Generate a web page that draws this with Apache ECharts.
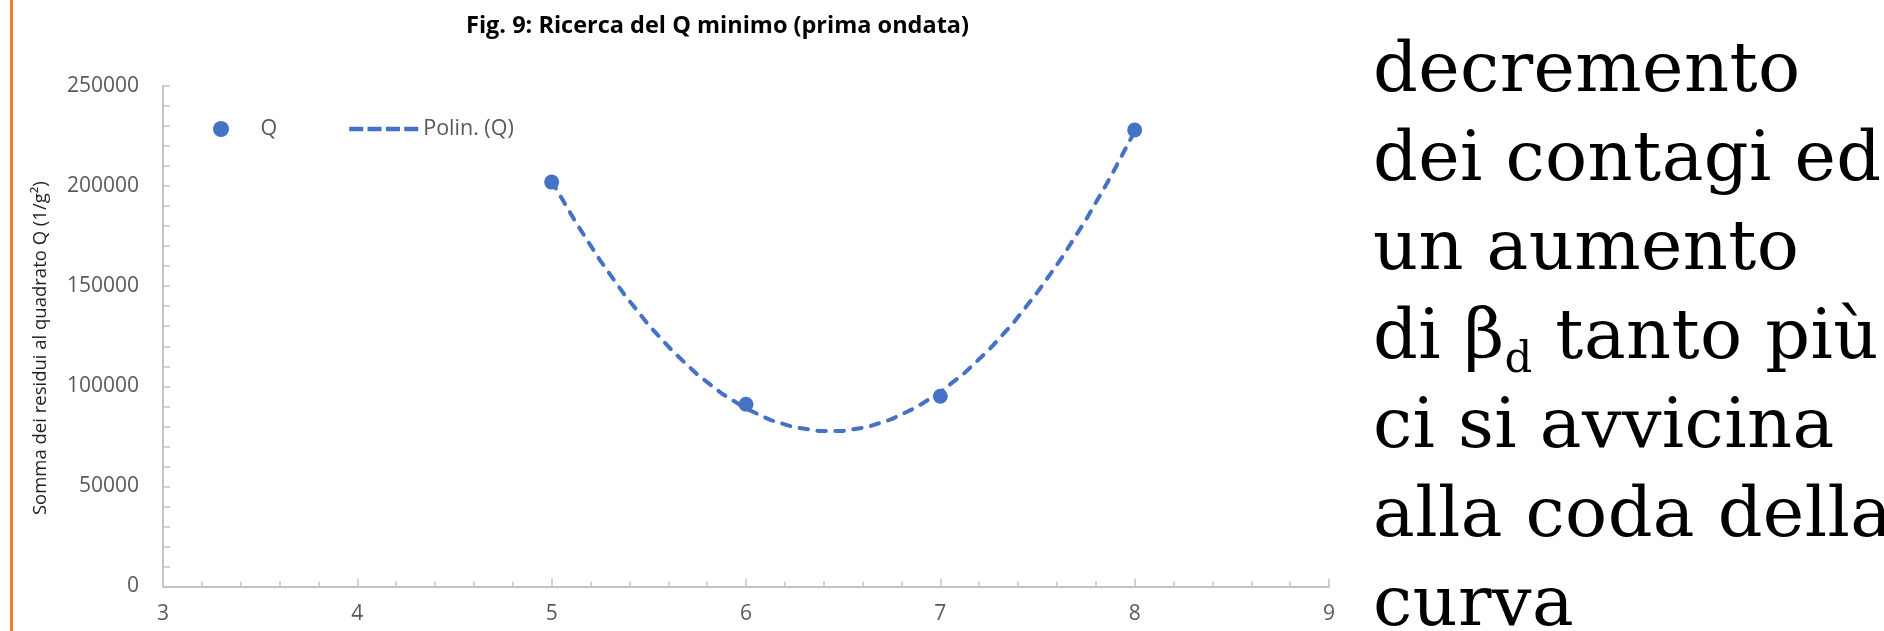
<!DOCTYPE html>
<html>
<head>
<meta charset="utf-8">
<title>Fig. 9: Ricerca del Q minimo</title>
<script src="https://cdn.jsdelivr.net/npm/echarts/dist/echarts.min.js"></script>
<style>
  html, body {
    margin: 0;
    padding: 0;
    background: #fff;
    overflow: hidden;
  }
  .slide {
    position: relative;
    width: 1884px;
    height: 631px;
    overflow: hidden;
  }
  #chart {
    position: absolute;
    left: 0;
    top: 0;
    width: 1884px;
    height: 631px;
  }
  .side-text {
    position: absolute;
    left: 1373px;
    top: 23px;
    font-family: "DejaVu Serif", serif;
    font-size: 70px;
    line-height: 89px;
    letter-spacing: 0.4px;
    color: #000;
    white-space: nowrap;
  }
  .side-text sub {
    font-size: 0.62em;
    line-height: 0;
    vertical-align: -0.32em;
  }
</style>
</head>
<body>
<div class="slide">
  <div id="chart"></div>
  <div class="side-text">
    decremento<br>
    dei contagi ed<br>
    un aumento<br>
    di β<sub>d</sub> tanto più<br>
    ci si avvicina<br>
    alla coda della<br>
    curva
  </div>
</div>
<script>
// valori
var qX = [5, 6, 7, 8];
var qValues = [202000, 91000, 95000, 228000];

// linea di tendenza "Polin. (Q)", letta lungo la curva tratteggiata
var trendX = [5, 5.125, 5.25, 5.375, 5.5, 5.625, 5.75, 5.875, 6, 6.125, 6.25, 6.375, 6.5,
              6.625, 6.75, 6.875, 7, 7.125, 7.25, 7.375, 7.5, 7.625, 7.75, 7.875, 8];
var trendValues = [202500, 181800, 162800, 145700, 130500, 117300, 105900, 96400, 88900, 83200, 79500, 77700, 77700,
                   79700, 83600, 89400, 97100, 106700, 118200, 131600, 147000, 164200, 183300, 204400, 227300];

var xTicks = [3, 4, 5, 6, 7, 8, 9];
var yTicks = [0, 50000, 100000, 150000, 200000, 250000];

var blue = "#4472C4";
var axisGray = "#c4c4c4";
var labelGray = "#595959";

function pairs(xs, ys) {
  return xs.map(function(x, i) {
    return [x, ys[i]];
  });
}

// icona tratteggiata per la legenda della linea di tendenza
var dashIcon = "path://M0,0H14V4.5H0Z M18.3,0H32.3V4.5H18.3Z M36.7,0H50.7V4.5H36.7Z M55,0H69V4.5H55Z";

var chart = echarts.init(document.getElementById("chart"));

var option = {
  backgroundColor: "#fff",
  animation: false,
  title: {
    text: "Fig. 9: Ricerca del Q minimo (prima ondata)",
    left: 461,
    top: 9,
    textStyle: {
      fontFamily: "Open Sans",
      fontWeight: "bold",
      fontSize: 23.5,
      color: "#000"
    }
  },
  legend: {
    left: 208,
    top: 113,
    itemWidth: 69,
    itemHeight: 16,
    itemGap: 72,
    textStyle: {
      fontFamily: "Open Sans",
      fontSize: 21.5,
      color: labelGray
    },
    data: [
      { name: "Q", icon: "circle", itemStyle: { color: blue, opacity: 1 } },
      { name: "Polin. (Q)", icon: dashIcon, itemStyle: { color: blue, opacity: 1 } }
    ]
  },
  grid: {
    left: 163,
    right: 555,
    top: 86,
    bottom: 44.5,
    containLabel: false
  },
  graphic: [
    {
      // bordo arancione della slide
      type: "rect",
      left: 10,
      top: 0,
      shape: { width: 3, height: 631 },
      style: { fill: "#ED7D31" }
    }
  ],
  xAxis: {
    type: "value",
    min: xTicks[0],
    max: xTicks[xTicks.length - 1],
    interval: 1,
    splitLine: { show: false },
    axisLine: { lineStyle: { color: axisGray, width: 2 } },
    axisTick: { inside: true, length: 8, lineStyle: { color: axisGray, width: 1.5 } },
    minorTick: { show: true, splitNumber: 5, length: 5, lineStyle: { color: axisGray, width: 1.5 } },
    axisLabel: {
      margin: 17,
      fontFamily: "Open Sans",
      fontSize: 21,
      color: labelGray
    }
  },
  yAxis: {
    type: "value",
    min: yTicks[0],
    max: yTicks[yTicks.length - 1],
    interval: 50000,
    name: "Somma dei residui al quadrato Q (1/g²)",
    nameLocation: "middle",
    nameGap: 113,
    nameTextStyle: {
      fontFamily: "Open Sans",
      fontSize: 18.5,
      color: "#1f1f1f",
      padding: [0, 24, 0, 0]
    },
    splitLine: { show: false },
    axisLine: { show: true, lineStyle: { color: axisGray, width: 2 } },
    axisTick: { show: true, inside: true, length: 7, lineStyle: { color: axisGray, width: 1.5 } },
    minorTick: { show: true, splitNumber: 5, length: 7, lineStyle: { color: axisGray, width: 1.5 } },
    axisLabel: {
      margin: 24,
      fontFamily: "Open Sans",
      fontSize: 21,
      color: labelGray,
      formatter: function(v) {
        return String(v);
      }
    }
  },
  series: [
    {
      name: "Polin. (Q)",
      type: "line",
      data: pairs(trendX, trendValues),
      smooth: false,
      symbol: "none",
      z: 2,
      lineStyle: { color: blue, width: 4, type: [8.5, 9.5], cap: "round" },
      itemStyle: { color: blue }
    },
    {
      name: "Q",
      type: "scatter",
      data: pairs(qX, qValues),
      symbol: "circle",
      symbolSize: 15,
      z: 3,
      itemStyle: { color: blue, opacity: 1 }
    }
  ]
};

chart.setOption(option, true);
</script>
</body>
</html>
